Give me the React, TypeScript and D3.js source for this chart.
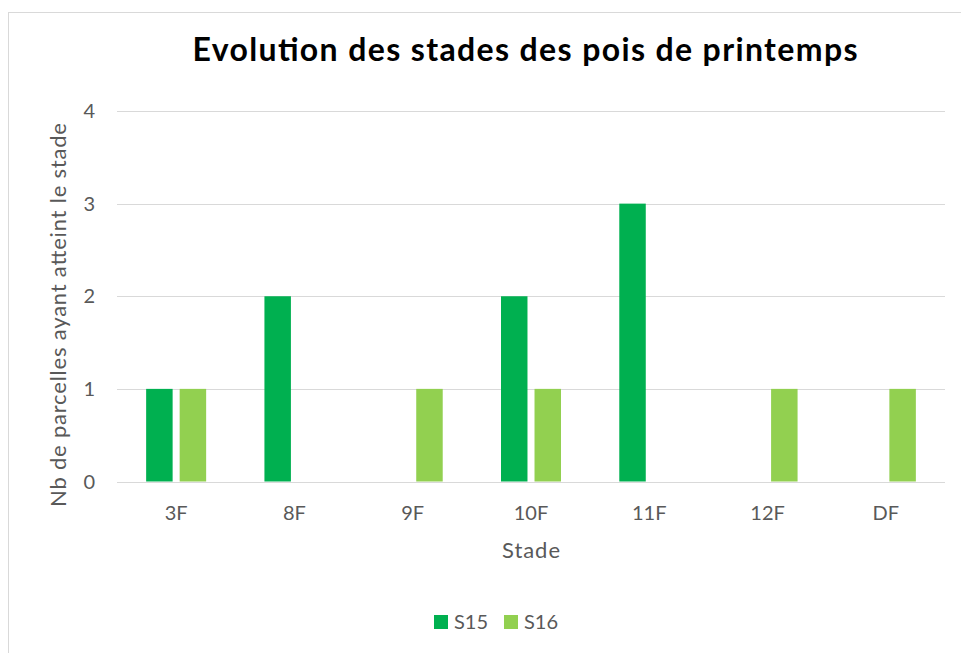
import React, { useEffect, useRef } from 'react';
import * as d3 from 'd3';

// stades observés et nombre de parcelles par semaine
const stades = ['3F', '8F', '9F', '10F', '11F', '12F', 'DF'];
const semaines = ['S15', 'S16'];
const valeursS15 = [1, 2, 0, 2, 3, 0, 0];
const valeursS16 = [1, 0, 1, 1, 0, 1, 1];
const yTicks = [0, 1, 2, 3, 4];
const couleurs = ['#00B050', '#92D050'];

const W = 961;
const H = 653;
const margin = { left: 117, right: 16, top: 111, bottom: 172 };

export default function App() {
  const svgRef = useRef<SVGSVGElement | null>(null);

  useEffect(() => {
    const svg = d3.select(svgRef.current);
    svg.selectAll('*').remove();

    const font = 'Lato, Carlito, "Open Sans", sans-serif';
    const grey = '#595959';

    // cadre du graphique
    svg.append('rect')
      .attr('x', 8.5).attr('y', 12.5)
      .attr('width', 980).attr('height', 680)
      .attr('fill', '#fff').attr('stroke', '#d9d9d9');

    const x0 = d3.scaleBand<string>()
      .domain(stades)
      .range([margin.left, W - margin.right]);

    const x1 = d3.scaleBand<string>()
      .domain(semaines)
      .range([0, 60])
      .paddingInner(0.21);

    const y = d3.scaleLinear()
      .domain([0, 4])
      .range([H - margin.bottom + 0.5, margin.top]);

    // grille horizontale
    svg.append('g')
      .selectAll('line')
      .data(yTicks)
      .enter()
      .append('line')
      .attr('x1', margin.left)
      .attr('x2', W - margin.right)
      .attr('y1', d => Math.round(y(d)) + 0.5)
      .attr('y2', d => Math.round(y(d)) + 0.5)
      .attr('stroke', '#d9d9d9')
      .attr('stroke-width', 1);

    svg.append('g')
      .selectAll('text')
      .data(yTicks)
      .enter()
      .append('text')
      .text(d => d)
      .attr('x', 95)
      .attr('y', d => y(d))
      .attr('dy', '0.35em')
      .attr('text-anchor', 'end')
      .attr('font-family', font)
      .attr('font-size', 20)
      .attr('fill', grey);

    // barres
    const series = [valeursS15, valeursS16];
    const groups = svg.append('g')
      .selectAll('g')
      .data(stades)
      .enter()
      .append('g')
      .attr('transform', d => `translate(${x0(d)! + x0.bandwidth() / 2 - 30},0)`);

    groups.selectAll('rect')
      .data((d, i) => semaines.map((s, j) => ({ s, v: series[j][i], j })))
      .enter()
      .filter(d => d.v > 0)
      .append('rect')
      .attr('x', d => x1(d.s)!)
      .attr('width', x1.bandwidth())
      .attr('y', d => y(d.v))
      .attr('height', d => y(0) - y(d.v))
      .attr('fill', d => couleurs[d.j]);

    // étiquettes des stades
    svg.append('g')
      .selectAll('text')
      .data(stades)
      .enter()
      .append('text')
      .text(d => d)
      .attr('x', d => x0(d)! + x0.bandwidth() / 2)
      .attr('y', 520)
      .attr('text-anchor', 'middle')
      .attr('font-family', font)
      .attr('font-size', 20)
      .attr('fill', grey);

    // titres
    svg.append('text')
      .text('Evolution des stades des pois de printemps')
      .attr('x', 525)
      .attr('y', 61)
      .attr('text-anchor', 'middle')
      .attr('textLength', 665)
      .attr('lengthAdjust', 'spacing')
      .attr('font-family', font)
      .attr('font-weight', 'bold')
      .attr('font-size', 32)
      .attr('fill', '#000');

    svg.append('text')
      .text('Stade')
      .attr('x', (margin.left + W - margin.right) / 2)
      .attr('y', 558)
      .attr('text-anchor', 'middle')
      .attr('textLength', 58)
      .attr('lengthAdjust', 'spacing')
      .attr('font-family', font)
      .attr('font-size', 22)
      .attr('fill', grey);

    svg.append('text')
      .text('Nb de parcelles ayant atteint le stade')
      .attr('transform', 'translate(66,315) rotate(-90)')
      .attr('text-anchor', 'middle')
      .attr('textLength', 384)
      .attr('lengthAdjust', 'spacing')
      .attr('font-family', font)
      .attr('font-size', 22)
      .attr('fill', grey);

    // légende
    const legend = svg.append('g')
      .selectAll('g')
      .data(semaines)
      .enter()
      .append('g')
      .attr('transform', (d, i) => `translate(${434 + i * 70},615)`);

    legend.append('rect')
      .attr('width', 14).attr('height', 14)
      .attr('fill', (d, i) => couleurs[i]);

    legend.append('text')
      .text(d => d)
      .attr('x', 20)
      .attr('y', 14)
      .attr('font-family', font)
      .attr('font-size', 20)
      .attr('fill', grey);
  }, []);

  return (
    <svg
      ref={svgRef}
      width={W}
      height={H}
      style={{ position: 'absolute', left: 0, top: 0, display: 'block' }}
    ></svg>
  );
}
